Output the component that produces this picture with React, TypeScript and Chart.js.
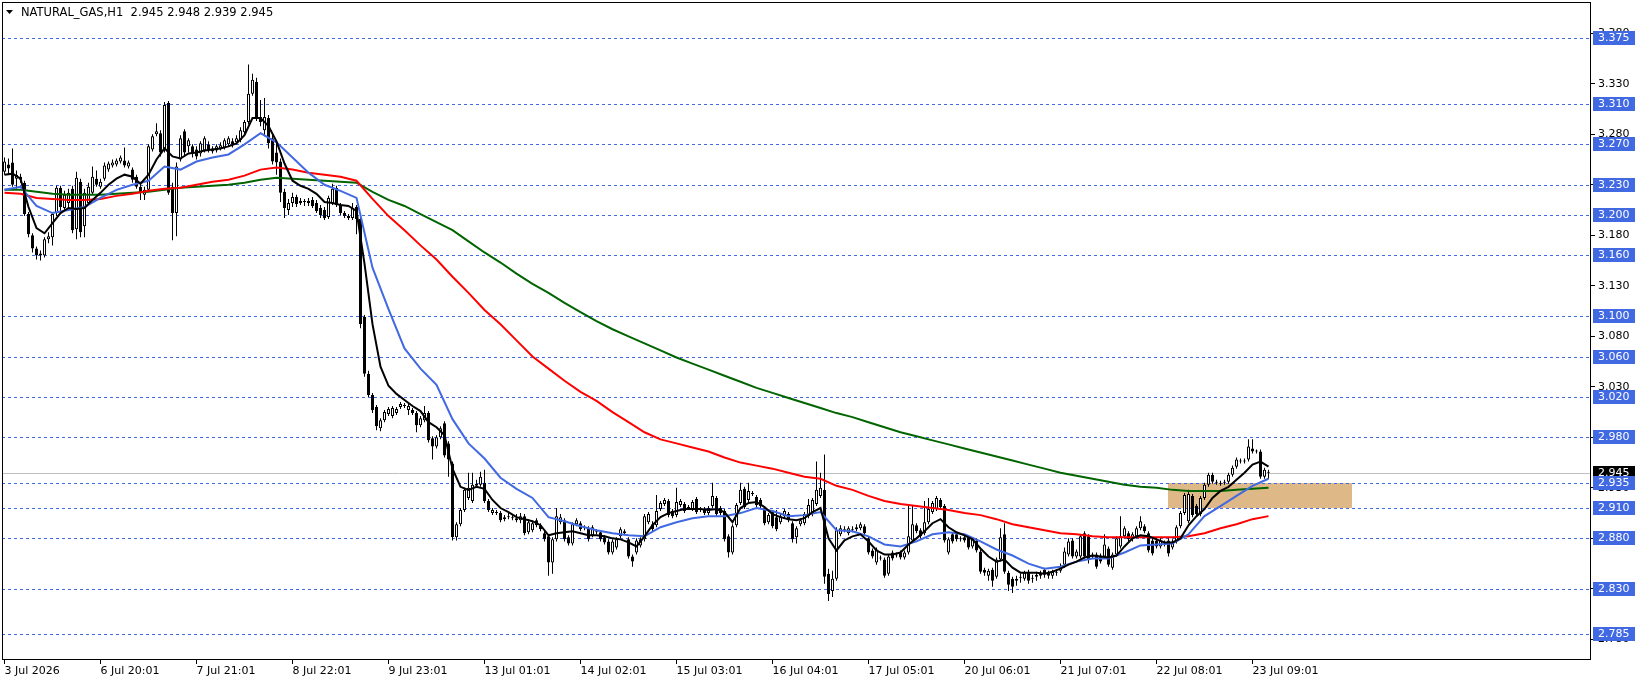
import React, { useEffect, useRef } from 'react';
import { Chart, registerables } from 'chart.js';

Chart.register(...registerables);

// ---- OHLC data (H1 bars, index 0 = first bar) ----
const opens = [
  3.243, 3.250, 3.252, 3.236, 3.238, 3.232, 3.201, 3.180, 3.167, 3.160,
  3.160, 3.176, 3.178, 3.202, 3.227, 3.207, 3.212, 3.226, 3.186, 3.233,
  3.189, 3.212, 3.222, 3.236, 3.228, 3.236, 3.245, 3.249, 3.250, 3.253,
  3.254, 3.248, 3.245, 3.238, 3.228, 3.220, 3.225, 3.265, 3.280, 3.281,
  3.265, 3.311, 3.228, 3.202, 3.255, 3.283, 3.268, 3.268, 3.265, 3.261,
  3.264, 3.270, 3.266, 3.264, 3.266, 3.267, 3.270, 3.273, 3.272, 3.274,
  3.282, 3.292, 3.320, 3.332, 3.297, 3.284, 3.296, 3.276, 3.262, 3.253,
  3.223, 3.205, 3.212, 3.218, 3.212, 3.213, 3.212, 3.215, 3.212, 3.207,
  3.205, 3.198, 3.212, 3.227, 3.210, 3.202, 3.199, 3.197, 3.208, 3.196,
  3.099, 3.043, 3.022, 3.010, 2.989, 2.997, 3.003, 3.001, 3.004, 3.010,
  3.012, 3.007, 3.007, 3.004, 2.992, 2.997, 3.004, 2.979, 2.971, 2.980,
  2.994, 2.974, 2.954, 2.881, 2.894, 2.908, 2.920, 2.917, 2.932, 2.933,
  2.935, 2.917, 2.905, 2.906, 2.905, 2.899, 2.901, 2.901, 2.900, 2.898,
  2.902, 2.886, 2.888, 2.898, 2.893, 2.885, 2.882, 2.856, 2.879, 2.896,
  2.898, 2.881, 2.875, 2.894, 2.895, 2.891, 2.890, 2.883, 2.887, 2.886,
  2.881, 2.877, 2.866, 2.871, 2.882, 2.887, 2.879, 2.862, 2.866, 2.873,
  2.879, 2.896, 2.894, 2.893, 2.909, 2.914, 2.917, 2.907, 2.903, 2.913,
  2.914, 2.910, 2.909, 2.919, 2.908, 2.909, 2.905, 2.912, 2.920, 2.910,
  2.907, 2.882, 2.866, 2.893, 2.915, 2.929, 2.918, 2.924, 2.921, 2.918,
  2.910, 2.896, 2.906, 2.901, 2.896, 2.902, 2.904, 2.895, 2.881, 2.894,
  2.895, 2.902, 2.904, 2.914, 2.922, 2.928, 2.845, 2.828, 2.840, 2.884,
  2.889, 2.885, 2.888, 2.889, 2.890, 2.892, 2.880, 2.868, 2.856, 2.860,
  2.859, 2.845, 2.866, 2.863, 2.866, 2.861, 2.866, 2.878, 2.893, 2.888,
  2.885, 2.896, 2.906, 2.909, 2.918, 2.912, 2.866, 2.884, 2.884, 2.879,
  2.881, 2.881, 2.872, 2.878, 2.867, 2.849, 2.843, 2.849, 2.842, 2.859,
  2.884, 2.846, 2.840, 2.838, 2.841, 2.840, 2.847, 2.840, 2.842, 2.843,
  2.849, 2.846, 2.843, 2.846, 2.848, 2.854, 2.864, 2.878, 2.862, 2.862,
  2.885, 2.882, 2.862, 2.864, 2.863, 2.862, 2.870, 2.851, 2.864, 2.872,
  2.882, 2.885, 2.879, 2.882, 2.890, 2.892, 2.885, 2.878, 2.878, 2.872,
  2.875, 2.878, 2.871, 2.877, 2.892, 2.905, 2.897, 2.922, 2.912, 2.904,
  2.920, 2.933, 2.943, 2.935, 2.934, 2.935, 2.936, 2.943, 2.951, 2.957,
  2.956, 2.958, 2.969, 2.966, 2.966, 2.941, 2.945,
];
const highs = [
  3.257, 3.256, 3.266, 3.244, 3.241, 3.234, 3.203, 3.182, 3.169, 3.165,
  3.178, 3.183, 3.203, 3.229, 3.229, 3.224, 3.226, 3.229, 3.243, 3.236,
  3.226, 3.232, 3.248, 3.244, 3.236, 3.252, 3.253, 3.255, 3.256, 3.259,
  3.267, 3.254, 3.247, 3.240, 3.230, 3.228, 3.270, 3.280, 3.291, 3.284,
  3.312, 3.313, 3.232, 3.252, 3.279, 3.285, 3.276, 3.270, 3.268, 3.273,
  3.278, 3.273, 3.268, 3.270, 3.272, 3.276, 3.278, 3.276, 3.279, 3.287,
  3.294, 3.349, 3.340, 3.336, 3.314, 3.316, 3.299, 3.280, 3.272, 3.256,
  3.226, 3.216, 3.222, 3.220, 3.217, 3.216, 3.217, 3.218, 3.215, 3.210,
  3.208, 3.219, 3.231, 3.229, 3.212, 3.204, 3.201, 3.212, 3.210, 3.198,
  3.101, 3.046, 3.024, 3.012, 2.999, 3.007, 3.010, 3.011, 3.010, 3.015,
  3.014, 3.013, 3.009, 3.006, 3.001, 3.011, 3.006, 2.981, 2.982, 2.991,
  2.996, 2.976, 2.956, 2.896, 2.910, 2.930, 2.945, 2.945, 2.938, 2.946,
  2.948, 2.919, 2.910, 2.908, 2.907, 2.903, 2.905, 2.903, 2.904, 2.905,
  2.904, 2.899, 2.897, 2.900, 2.895, 2.887, 2.884, 2.881, 2.910, 2.904,
  2.900, 2.883, 2.896, 2.900, 2.897, 2.893, 2.892, 2.893, 2.889, 2.888,
  2.883, 2.879, 2.879, 2.881, 2.891, 2.889, 2.881, 2.864, 2.880, 2.881,
  2.904, 2.906, 2.897, 2.923, 2.917, 2.920, 2.919, 2.909, 2.930, 2.919,
  2.916, 2.913, 2.918, 2.921, 2.911, 2.911, 2.912, 2.935, 2.922, 2.912,
  2.909, 2.884, 2.894, 2.915, 2.935, 2.931, 2.935, 2.927, 2.923, 2.920,
  2.912, 2.905, 2.908, 2.908, 2.904, 2.909, 2.906, 2.897, 2.892, 2.900,
  2.906, 2.919, 2.920, 2.956, 2.945, 2.963, 2.850, 2.848, 2.891, 2.893,
  2.892, 2.892, 2.892, 2.894, 2.896, 2.894, 2.882, 2.870, 2.871, 2.863,
  2.861, 2.864, 2.868, 2.866, 2.868, 2.868, 2.912, 2.912, 2.895, 2.890,
  2.917, 2.920, 2.917, 2.922, 2.920, 2.914, 2.881, 2.886, 2.886, 2.882,
  2.883, 2.883, 2.881, 2.880, 2.869, 2.851, 2.850, 2.851, 2.861, 2.890,
  2.895, 2.848, 2.842, 2.843, 2.845, 2.848, 2.849, 2.844, 2.847, 2.848,
  2.851, 2.848, 2.849, 2.849, 2.855, 2.871, 2.880, 2.880, 2.869, 2.884,
  2.887, 2.884, 2.866, 2.866, 2.865, 2.884, 2.872, 2.866, 2.882, 2.902,
  2.892, 2.887, 2.886, 2.892, 2.902, 2.894, 2.887, 2.880, 2.880, 2.880,
  2.878, 2.880, 2.879, 2.893, 2.907, 2.925, 2.928, 2.924, 2.914, 2.922,
  2.935, 2.945, 2.945, 2.938, 2.937, 2.938, 2.945, 2.952, 2.960, 2.959,
  2.959, 2.978, 2.978, 2.968, 2.968, 2.950, 2.948,
];
const lows = [
  3.240, 3.241, 3.228, 3.226, 3.232, 3.199, 3.178, 3.163, 3.156, 3.155,
  3.158, 3.172, 3.170, 3.199, 3.204, 3.205, 3.205, 3.182, 3.176, 3.178,
  3.178, 3.210, 3.220, 3.228, 3.226, 3.234, 3.243, 3.247, 3.248, 3.251,
  3.247, 3.246, 3.232, 3.226, 3.215, 3.215, 3.223, 3.263, 3.278, 3.258,
  3.262, 3.220, 3.175, 3.179, 3.253, 3.258, 3.262, 3.257, 3.255, 3.258,
  3.262, 3.262, 3.261, 3.262, 3.264, 3.265, 3.268, 3.267, 3.270, 3.272,
  3.280, 3.290, 3.318, 3.293, 3.288, 3.278, 3.266, 3.250, 3.240, 3.213,
  3.197, 3.200, 3.208, 3.208, 3.210, 3.209, 3.209, 3.207, 3.202, 3.197,
  3.195, 3.196, 3.210, 3.208, 3.200, 3.197, 3.195, 3.195, 3.181, 3.088,
  3.040, 3.020, 3.004, 2.987, 2.986, 2.995, 3.001, 2.999, 3.002, 3.008,
  3.009, 3.002, 3.002, 2.985, 2.990, 2.995, 2.975, 2.958, 2.969, 2.978,
  2.960, 2.941, 2.878, 2.878, 2.892, 2.906, 2.918, 2.915, 2.930, 2.931,
  2.915, 2.906, 2.903, 2.903, 2.896, 2.897, 2.899, 2.898, 2.896, 2.895,
  2.883, 2.884, 2.886, 2.891, 2.887, 2.877, 2.843, 2.845, 2.877, 2.894,
  2.877, 2.873, 2.873, 2.892, 2.887, 2.888, 2.877, 2.881, 2.884, 2.877,
  2.874, 2.864, 2.864, 2.869, 2.880, 2.883, 2.860, 2.852, 2.864, 2.871,
  2.877, 2.894, 2.887, 2.891, 2.907, 2.912, 2.901, 2.900, 2.901, 2.911,
  2.905, 2.908, 2.907, 2.904, 2.906, 2.903, 2.903, 2.910, 2.902, 2.903,
  2.877, 2.861, 2.864, 2.891, 2.913, 2.909, 2.916, 2.922, 2.911, 2.910,
  2.893, 2.894, 2.890, 2.887, 2.894, 2.900, 2.896, 2.876, 2.875, 2.892,
  2.893, 2.900, 2.902, 2.912, 2.920, 2.835, 2.818, 2.822, 2.838, 2.882,
  2.886, 2.883, 2.886, 2.887, 2.888, 2.883, 2.864, 2.860, 2.854, 2.858,
  2.841, 2.843, 2.858, 2.861, 2.859, 2.859, 2.864, 2.876, 2.885, 2.880,
  2.883, 2.894, 2.904, 2.907, 2.909, 2.876, 2.864, 2.875, 2.877, 2.877,
  2.876, 2.869, 2.870, 2.866, 2.845, 2.843, 2.838, 2.832, 2.840, 2.857,
  2.845, 2.828, 2.826, 2.833, 2.836, 2.838, 2.835, 2.836, 2.838, 2.840,
  2.841, 2.840, 2.840, 2.843, 2.846, 2.851, 2.862, 2.860, 2.860, 2.860,
  2.860, 2.855, 2.860, 2.850, 2.855, 2.860, 2.852, 2.849, 2.862, 2.870,
  2.880, 2.877, 2.877, 2.880, 2.888, 2.885, 2.866, 2.863, 2.870, 2.870,
  2.872, 2.862, 2.869, 2.875, 2.890, 2.903, 2.895, 2.901, 2.902, 2.902,
  2.918, 2.931, 2.934, 2.933, 2.932, 2.933, 2.934, 2.941, 2.949, 2.954,
  2.954, 2.956, 2.964, 2.964, 2.939, 2.939, 2.939,
];
const closes = [
  3.253, 3.246, 3.230, 3.240, 3.235, 3.201, 3.181, 3.167, 3.160, 3.162,
  3.176, 3.179, 3.201, 3.227, 3.208, 3.220, 3.222, 3.185, 3.237, 3.183,
  3.222, 3.228, 3.238, 3.230, 3.233, 3.249, 3.251, 3.252, 3.254, 3.257,
  3.249, 3.252, 3.235, 3.228, 3.222, 3.225, 3.268, 3.278, 3.283, 3.262,
  3.309, 3.222, 3.202, 3.248, 3.276, 3.262, 3.274, 3.261, 3.258, 3.271,
  3.276, 3.264, 3.263, 3.268, 3.269, 3.274, 3.276, 3.270, 3.276, 3.284,
  3.292, 3.320, 3.334, 3.297, 3.292, 3.297, 3.271, 3.253, 3.252, 3.222,
  3.207, 3.212, 3.218, 3.211, 3.214, 3.213, 3.214, 3.209, 3.204, 3.200,
  3.197, 3.217, 3.226, 3.210, 3.202, 3.199, 3.197, 3.207, 3.196, 3.092,
  3.043, 3.022, 3.007, 2.991, 2.997, 3.005, 3.008, 3.009, 3.008, 3.013,
  3.011, 3.011, 3.004, 2.992, 2.999, 3.004, 2.977, 2.971, 2.980, 2.989,
  2.962, 2.958, 2.881, 2.894, 2.908, 2.928, 2.930, 2.933, 2.934, 2.941,
  2.917, 2.908, 2.908, 2.905, 2.898, 2.901, 2.902, 2.900, 2.898, 2.902,
  2.885, 2.896, 2.895, 2.893, 2.889, 2.879, 2.856, 2.879, 2.902, 2.901,
  2.879, 2.875, 2.894, 2.898, 2.889, 2.890, 2.879, 2.891, 2.886, 2.879,
  2.876, 2.866, 2.877, 2.879, 2.889, 2.885, 2.862, 2.857, 2.878, 2.879,
  2.902, 2.904, 2.889, 2.907, 2.915, 2.918, 2.903, 2.902, 2.916, 2.917,
  2.907, 2.911, 2.916, 2.906, 2.909, 2.905, 2.910, 2.922, 2.904, 2.905,
  2.879, 2.866, 2.892, 2.913, 2.928, 2.911, 2.927, 2.925, 2.913, 2.912,
  2.895, 2.903, 2.892, 2.889, 2.902, 2.907, 2.898, 2.879, 2.890, 2.898,
  2.904, 2.913, 2.918, 2.928, 2.930, 2.842, 2.825, 2.840, 2.888, 2.890,
  2.888, 2.890, 2.889, 2.891, 2.894, 2.885, 2.866, 2.862, 2.869, 2.861,
  2.843, 2.862, 2.860, 2.864, 2.861, 2.866, 2.882, 2.894, 2.887, 2.882,
  2.896, 2.909, 2.915, 2.920, 2.911, 2.878, 2.879, 2.877, 2.879, 2.880,
  2.878, 2.871, 2.879, 2.868, 2.847, 2.846, 2.848, 2.838, 2.859, 2.881,
  2.847, 2.834, 2.832, 2.840, 2.842, 2.846, 2.838, 2.841, 2.844, 2.845,
  2.844, 2.843, 2.847, 2.846, 2.852, 2.867, 2.877, 2.862, 2.867, 2.882,
  2.862, 2.859, 2.864, 2.852, 2.857, 2.874, 2.854, 2.864, 2.880, 2.882,
  2.890, 2.879, 2.884, 2.890, 2.897, 2.887, 2.868, 2.865, 2.872, 2.878,
  2.874, 2.865, 2.877, 2.891, 2.905, 2.923, 2.924, 2.903, 2.904, 2.920,
  2.933, 2.943, 2.936, 2.936, 2.935, 2.936, 2.943, 2.950, 2.958, 2.956,
  2.957, 2.971, 2.966, 2.966, 2.941, 2.948, 2.945,
];

const maBlackStep = 2;
const maBlack = [
  3.240, 3.241, 3.236, 3.208, 3.187, 3.182, 3.192, 3.202, 3.207, 3.206,
  3.207, 3.215, 3.222, 3.230, 3.236, 3.240, 3.238, 3.231, 3.240, 3.255,
  3.266, 3.258, 3.256, 3.261, 3.262, 3.264, 3.265, 3.266, 3.268, 3.271,
  3.279, 3.296, 3.296, 3.288, 3.273, 3.251, 3.234, 3.229, 3.226, 3.221,
  3.213, 3.212, 3.210, 3.209, 3.204, 3.152, 3.092, 3.050, 3.031, 3.023,
  3.017, 3.011, 3.006, 2.995, 2.990, 2.982, 2.949, 2.931, 2.928, 2.931,
  2.929, 2.918, 2.910, 2.906, 2.901, 2.899, 2.897, 2.893, 2.883, 2.885,
  2.886, 2.887, 2.885, 2.883, 2.883, 2.882, 2.880, 2.879, 2.876, 2.872,
  2.882, 2.893, 2.901, 2.905, 2.907, 2.909, 2.909, 2.909, 2.908, 2.909,
  2.906, 2.896, 2.910, 2.915, 2.916, 2.911, 2.904, 2.901, 2.899, 2.898,
  2.900, 2.906, 2.910, 2.880, 2.868, 2.878, 2.882, 2.884, 2.877, 2.868,
  2.864, 2.864, 2.866, 2.874, 2.880, 2.887, 2.895, 2.899, 2.891, 2.886,
  2.883, 2.879, 2.870, 2.862, 2.857, 2.859, 2.851, 2.846, 2.846, 2.846,
  2.845, 2.847, 2.850, 2.854, 2.857, 2.861, 2.863, 2.862, 2.861, 2.863,
  2.872, 2.880, 2.883, 2.882, 2.879, 2.876, 2.876, 2.880, 2.893, 2.902,
  2.909, 2.920, 2.927, 2.931, 2.938, 2.945, 2.953, 2.956, 2.951,
];
const maStep = 4;
const maBlue = [
  3.225, 3.228, 3.209, 3.202, 3.205, 3.208, 3.217, 3.225, 3.230, 3.234,
  3.248, 3.245, 3.253, 3.257, 3.260, 3.270, 3.281, 3.272, 3.257, 3.242,
  3.230, 3.224, 3.217, 3.148, 3.107, 3.068, 3.048, 3.032, 2.998, 2.974,
  2.959, 2.940, 2.929, 2.920, 2.901, 2.897, 2.892, 2.888, 2.885, 2.883,
  2.882, 2.891, 2.896, 2.900, 2.902, 2.902, 2.905, 2.910, 2.907, 2.902,
  2.903, 2.906, 2.888, 2.887, 2.882, 2.874, 2.872, 2.877, 2.884, 2.886,
  2.884, 2.877, 2.869, 2.863, 2.855, 2.850, 2.852, 2.857, 2.860, 2.860,
  2.866, 2.873, 2.874, 2.875, 2.884, 2.902, 2.912, 2.922, 2.932, 2.939,
];
const maRed = [
  3.222, 3.221, 3.217, 3.216, 3.215, 3.215, 3.216, 3.219, 3.221, 3.224,
  3.226, 3.227, 3.230, 3.233, 3.235, 3.239, 3.245, 3.247, 3.245, 3.242,
  3.240, 3.238, 3.234, 3.216, 3.199, 3.185, 3.170, 3.156, 3.139, 3.123,
  3.106, 3.092, 3.076, 3.060, 3.048, 3.036, 3.025, 3.016, 3.005, 2.995,
  2.985, 2.978, 2.974, 2.970, 2.966, 2.960, 2.955, 2.952, 2.949, 2.945,
  2.941, 2.939, 2.932, 2.928, 2.922, 2.917, 2.914, 2.912, 2.910, 2.908,
  2.905, 2.903, 2.899, 2.894, 2.891, 2.888, 2.885, 2.884, 2.882, 2.881,
  2.881, 2.881, 2.881, 2.881, 2.882, 2.885, 2.890, 2.894, 2.899, 2.902,
];
const maGreen = [
  3.225, 3.225, 3.223, 3.221, 3.220, 3.220, 3.220, 3.221, 3.222, 3.223,
  3.225, 3.227, 3.228, 3.229, 3.230, 3.232, 3.235, 3.237, 3.236, 3.235,
  3.234, 3.233, 3.232, 3.223, 3.215, 3.209, 3.201, 3.193, 3.185, 3.174,
  3.163, 3.153, 3.142, 3.132, 3.123, 3.113, 3.104, 3.095, 3.087, 3.080,
  3.073, 3.066, 3.059, 3.053, 3.047, 3.041, 3.035, 3.029, 3.024, 3.019,
  3.014, 3.009, 3.004, 3.000, 2.995, 2.990, 2.985, 2.981, 2.977, 2.973,
  2.969, 2.965, 2.961, 2.957, 2.953, 2.949, 2.945, 2.942, 2.939, 2.936,
  2.933, 2.931, 2.930, 2.928, 2.927, 2.927, 2.927, 2.928, 2.929, 2.930,
];

// ---- axes / annotations ----
const xTickBars = [0, 24, 48, 72, 96, 120, 144, 168, 192, 216, 240, 264, 288, 312];
const xTickLabels = [
  '3 Jul 2026', '6 Jul 20:01', '7 Jul 21:01', '8 Jul 22:01', '9 Jul 23:01', '13 Jul 01:01',
  '14 Jul 02:01', '15 Jul 03:01', '16 Jul 04:01', '17 Jul 05:01', '20 Jul 06:01',
  '21 Jul 07:01', '22 Jul 08:01', '23 Jul 09:01',
];
const yTickValues = [2.78, 2.83, 2.88, 2.93, 2.98, 3.03, 3.08, 3.13, 3.18, 3.23, 3.28, 3.33, 3.38];
const levelPrices = [3.375, 3.310, 3.270, 3.230, 3.200, 3.160, 3.100, 3.060, 3.020, 2.980, 2.935, 2.910, 2.880, 2.830, 2.785];
const currentPrice = 2.945;
const zoneBars = [290.75, 336.75];
const zonePrices = [2.910, 2.935];
const titleText = 'NATURAL_GAS,H1  2.945 2.948 2.939 2.945';

const X_MIN = -0.625;
const X_MAX = 396.625;
const Y_MIN = 2.7596;
const Y_MAX = 3.4109;

const FONT = '"DejaVu Sans", sans-serif';

const overlayPlugin = {
  id: 'mtOverlay',
  beforeDatasetsDraw(chart: any) {
    const { ctx, chartArea: a, scales } = chart;
    const x = scales.x;
    const y = scales.y;
    ctx.save();
    ctx.beginPath();
    ctx.rect(a.left, a.top, a.right - a.left, a.bottom - a.top);
    ctx.clip();
    // zone rectangle
    const zx1 = x.getPixelForValue(zoneBars[0]);
    const zx2 = x.getPixelForValue(zoneBars[1]);
    const zyTop = y.getPixelForValue(zonePrices[1]);
    const zyBot = y.getPixelForValue(zonePrices[0]);
    ctx.fillStyle = '#DEB887';
    ctx.fillRect(Math.round(zx1), Math.round(zyTop), Math.round(zx2 - zx1), Math.round(zyBot - zyTop));
    // current price line
    ctx.lineWidth = 1;
    ctx.strokeStyle = '#C0C0C0';
    const cy = Math.round(y.getPixelForValue(currentPrice)) + 0.5;
    ctx.beginPath();
    ctx.moveTo(a.left, cy);
    ctx.lineTo(a.right, cy);
    ctx.stroke();
    // level lines
    ctx.strokeStyle = '#4169E1';
    ctx.setLineDash([3, 3]);
    for (const p of levelPrices) {
      const py = Math.round(y.getPixelForValue(p)) + 0.5;
      ctx.beginPath();
      ctx.moveTo(a.left, py);
      ctx.lineTo(a.right, py);
      ctx.stroke();
    }
    ctx.restore();
  },
  afterDraw(chart: any) {
    const { ctx, chartArea: a, scales } = chart;
    const y = scales.y;
    ctx.save();
    ctx.strokeStyle = '#000';
    ctx.lineWidth = 1;
    ctx.strokeRect(a.left + 0.5, a.top + 0.5, a.right - a.left - 1, a.bottom - a.top - 1);
    ctx.font = '11px ' + FONT;
    ctx.textBaseline = 'middle';
    ctx.textAlign = 'left';
    const drawTag = (p: number, bg: string) => {
      const py = Math.round(y.getPixelForValue(p));
      ctx.fillStyle = bg;
      ctx.fillRect(a.right + 2, py - 7, 42, 14);
      ctx.fillStyle = '#fff';
      ctx.fillText(p.toFixed(3), a.right + 7, py + 0.5);
    };
    drawTag(currentPrice, '#000');
    levelPrices.forEach((p) => drawTag(p, '#4169E1'));
    // title
    ctx.fillStyle = '#000';
    ctx.beginPath();
    ctx.moveTo(6, 10);
    ctx.lineTo(13, 10);
    ctx.lineTo(9.5, 14);
    ctx.closePath();
    ctx.fill();
    ctx.font = '11.5px ' + FONT;
    ctx.fillText(titleText, 21, 13);
    ctx.restore();
  },
};

export default function App() {
  const canvasRef = useRef<HTMLCanvasElement | null>(null);

  useEffect(() => {
    document.body.style.margin = '0';
    const canvas = canvasRef.current;
    if (!canvas) return;

    const wickData = opens.map((_, i) => ({ x: i, y: [lows[i], highs[i]] }));
    const bodyData = opens.map((o, i) => ({ x: i, y: [o, closes[i]] }));
    const bodyFill = opens.map((o, i) => (closes[i] >= o ? '#FFFFFF' : '#000000'));
    const toLine = (vals: number[], step: number) => vals.map((v, k) => ({ x: k * step, y: v }));

    const lineDs = (label: string, vals: number[], step: number, color: string, order: number) => ({
      type: 'line' as const,
      label,
      data: toLine(vals, step),
      borderColor: color,
      borderWidth: 2,
      pointRadius: 0,
      tension: 0,
      fill: false,
      order,
    });

    const chart = new Chart(canvas, {
      type: 'bar',
      data: {
        datasets: [
          lineDs('MA black', maBlack, maBlackStep, '#000000', 0),
          lineDs('MA blue', maBlue, maStep, '#4169E1', 1),
          lineDs('MA red', maRed, maStep, '#FF0000', 2),
          lineDs('MA green', maGreen, maStep, '#006400', 3),
          {
            type: 'bar' as const,
            label: 'body',
            data: bodyData as any,
            backgroundColor: bodyFill,
            borderColor: '#000000',
            borderWidth: 1,
            borderSkipped: false,
            barThickness: 3,
            minBarLength: 1,
            grouped: false,
            inflateAmount: 0,
            order: 5,
          } as any,
          {
            type: 'bar' as const,
            label: 'wick',
            data: wickData as any,
            backgroundColor: '#000000',
            borderWidth: 0,
            barThickness: 1,
            minBarLength: 1,
            grouped: false,
            inflateAmount: 0,
            order: 6,
          } as any,
        ],
      },
      options: {
        responsive: false,
        animation: false,
        devicePixelRatio: 1,
        events: [],
        layout: { padding: { left: 2, top: 2, right: 0, bottom: 0 } },
        plugins: {
          legend: { display: false },
          tooltip: { enabled: false },
          title: { display: false },
        },
        scales: {
          x: {
            type: 'linear',
            min: X_MIN,
            max: X_MAX,
            offset: false,
            grid: { display: true, drawOnChartArea: false, drawTicks: true, tickLength: 4, color: '#000', offset: false },
            border: { display: false },
            ticks: {
              autoSkip: false,
              maxRotation: 0,
              minRotation: 0,
              align: 'start',
              padding: 1,
              color: '#000',
              font: { family: FONT, size: 11 },
              callback: (v: any) => {
                const k = xTickBars.indexOf(Number(v));
                return k >= 0 ? xTickLabels[k] : '';
              },
            },
            afterBuildTicks: (s: any) => {
              s.ticks = xTickBars.map((v) => ({ value: v }));
            },
            afterFit: (s: any) => {
              s.height = 24;
              s.paddingLeft = 0;
              s.paddingRight = 0;
              s.paddingTop = 0;
              s.paddingBottom = 0;
            },
          },
          y: {
            type: 'linear',
            position: 'right',
            min: Y_MIN,
            max: Y_MAX,
            grid: { display: true, drawOnChartArea: false, drawTicks: true, tickLength: 4, color: '#000' },
            border: { display: false },
            ticks: {
              autoSkip: false,
              padding: 3,
              color: '#000',
              font: { family: FONT, size: 11 },
              callback: (v: any) => Number(v).toFixed(3),
            },
            afterBuildTicks: (s: any) => {
              s.ticks = yTickValues.map((v) => ({ value: v }));
            },
            afterFit: (s: any) => {
              s.width = 50;
              s.paddingTop = 0;
              s.paddingBottom = 0;
              s.paddingLeft = 0;
              s.paddingRight = 0;
            },
          },
        },
      } as any,
      plugins: [overlayPlugin],
    });

    return () => chart.destroy();
  }, []);

  return (
    <canvas
      ref={canvasRef}
      width={1641}
      height={684}
      style={{ display: 'block', width: 1641, height: 684 }}
    />
  );
}
